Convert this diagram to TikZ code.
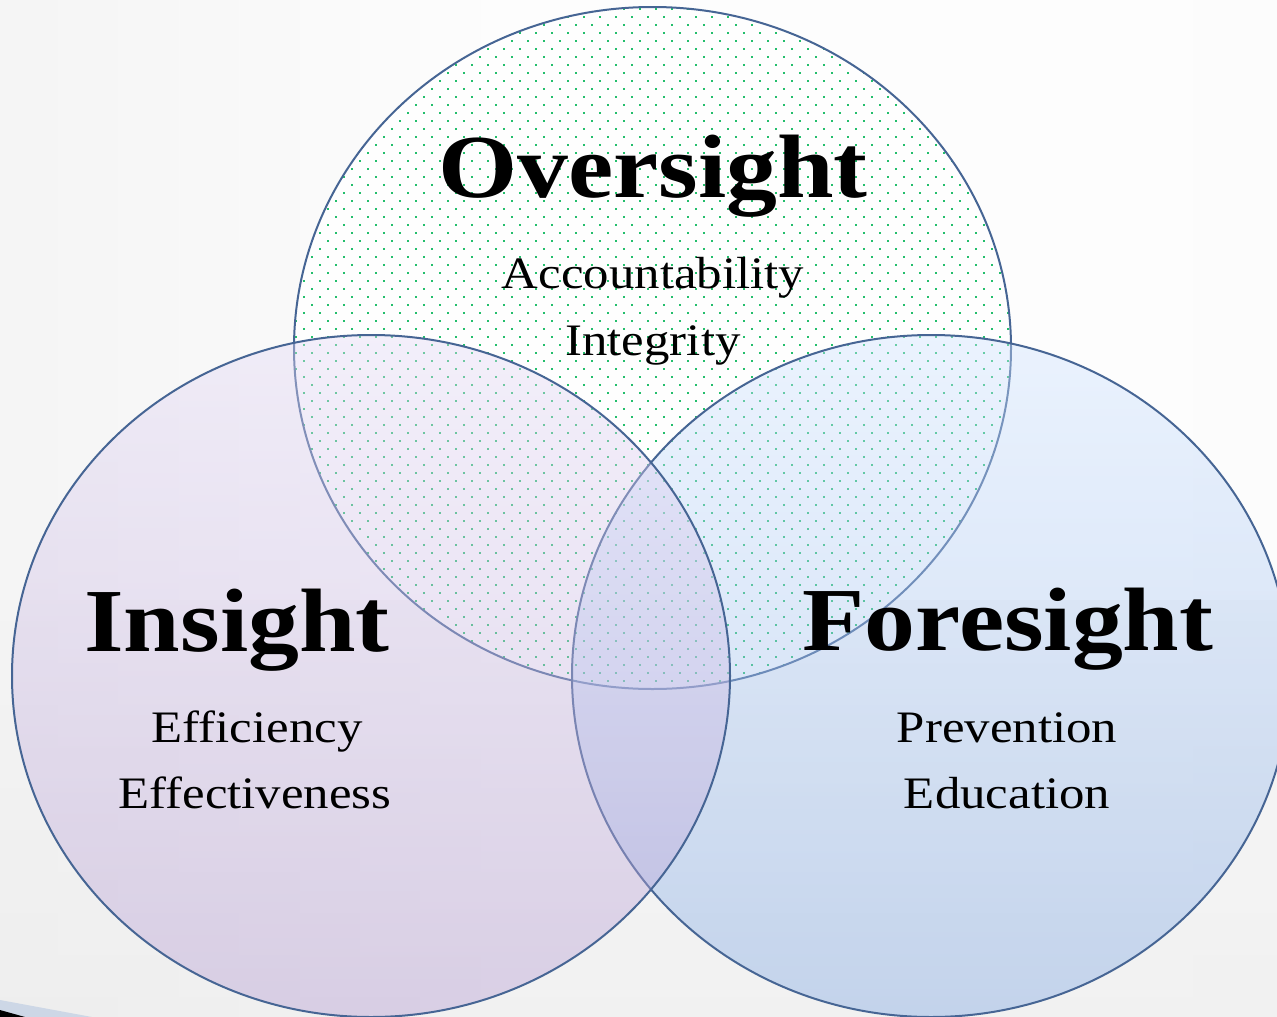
\documentclass[tikz,border=0pt]{standalone}
\usepackage{fontspec}
\setmainfont[FakeStretch=1.13]{Liberation Serif}
\usetikzlibrary{patterns.meta}
\definecolor{bgedge}{RGB}{234,234,234}
\definecolor{bgside}{RGB}{244,244,244}
\definecolor{bglight}{RGB}{253,253,253}
\definecolor{ringline}{RGB}{70,101,148}
\definecolor{dotgreen}{RGB}{36,190,108}
\definecolor{lavtop}{RGB}{227,217,245}
\definecolor{lavbot}{RGB}{180,155,210}
\definecolor{bluetop}{RGB}{207,227,255}
\definecolor{bluebot}{RGB}{127,167,227}
\definecolor{bandblue}{RGB}{205,215,230}
\pgfdeclarehorizontalshading{bgshade}{100bp}{color(0bp)=(bgedge); color(45bp)=(bglight); color(70bp)=(bglight); color(100bp)=(bgside)}
\tikzset{
  bigword/.style={font=\fontsize{90}{90}\selectfont\bfseries, anchor=base, inner sep=0pt, text=black},
  smallword/.style={font=\fontsize{45}{45}\selectfont, anchor=base, inner sep=0pt, text=black},
  ringedge/.style={draw=ringline, line width=2pt},
}
\begin{document}
\begin{tikzpicture}[x=1pt,y=-1pt]
\useasboundingbox (0,0) rectangle (1277,1017);
\shade[shading=bgshade] (0,0) rectangle (1277,1017);
\shade[top color=bgside, bottom color=bgedge, fill opacity=0.6] (0,600) rectangle (1277,1017);
% slide corner band
\fill[bandblue] (0,1000) -- (92,1017) -- (0,1017) -- cycle;
\fill[black] (0,1010) -- (25,1017) -- (0,1017) -- cycle;
% top circle
\fill[white, fill opacity=0.85] (652.5,348) ellipse [x radius=358.5, y radius=341];
\fill[pattern={Dots[radius=1.25pt, distance=11.3137pt, angle=45]}, pattern color=dotgreen] (652.5,348) ellipse [x radius=358.5, y radius=341];
\path[ringedge] (652.5,348) ellipse [x radius=358.5, y radius=341];
% right circle
\shade[top color=bluetop, bottom color=bluebot, fill opacity=0.4] (931,676) ellipse [x radius=359, y radius=341];
\path[ringedge] (931,676) ellipse [x radius=359, y radius=341];
% left circle
\shade[top color=lavtop, bottom color=lavbot, fill opacity=0.4] (371,676) ellipse [x radius=359, y radius=341];
\path[ringedge] (371,676) ellipse [x radius=359, y radius=341];
% texts
\node[bigword] (over) at (653,197) {Oversight};
\node[smallword] (acc) at (653,288) {Accountability};
\node[smallword] (int) at (653,355) {Integrity};
\node[bigword] (ins) at (237,651) {Insight};
\node[smallword] (eff) at (257,742) {Efficiency};
\node[smallword] (effn) at (255,808) {Effectiveness};
\node[bigword] (fore) at (1008,650) {Foresight};
\node[smallword] (prev) at (1007,742) {Prevention};
\node[smallword] (edu) at (1007,808) {Education};
\end{tikzpicture}
\end{document}
